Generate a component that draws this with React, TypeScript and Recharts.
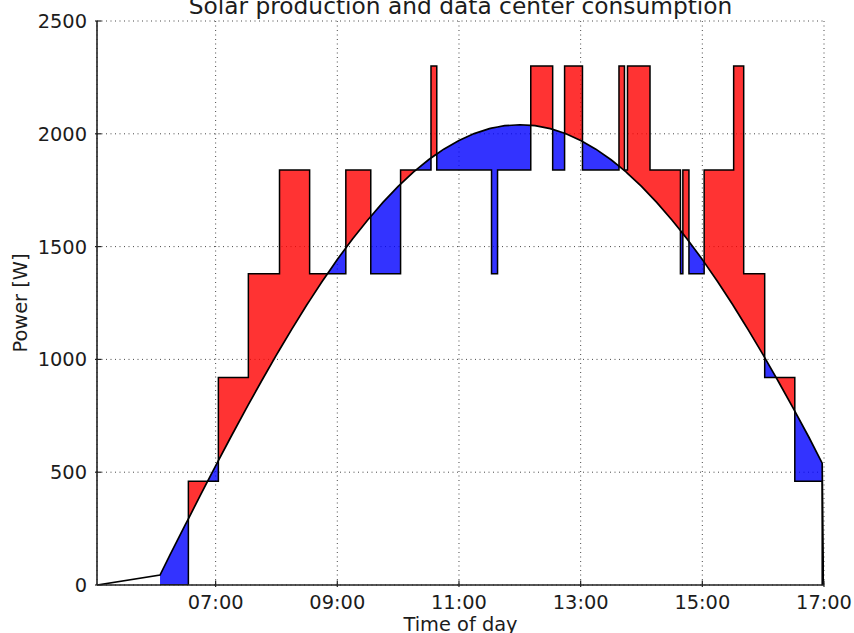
import React from 'react';
import { ComposedChart, Area, Line, XAxis, YAxis, CartesianGrid } from 'recharts';

// Solar production samples (hour of day -> watts)
const solarHours = [
  5.05, 6.086, 6.25, 6.5, 6.75, 7, 7.25, 7.5, 7.75, 8, 8.25, 8.5, 8.75, 9, 9.25, 9.5, 9.75,
  10, 10.25, 10.5, 10.75, 11, 11.25, 11.5, 11.75, 12, 12.25, 12.5, 12.75, 13, 13.25, 13.5,
  13.75, 14, 14.25, 14.5, 14.75, 15, 15.25, 15.5, 15.75, 16, 16.25, 16.5, 16.75, 16.97, 16.99,
];
const solarWatts = [
  0, 44, 133, 266, 398, 528, 656, 781, 902, 1020, 1133, 1242, 1345, 1443, 1534, 1618, 1696,
  1767, 1830, 1885, 1932, 1970, 2001, 2023, 2036, 2040, 2036, 2023, 2001, 1970, 1932, 1885,
  1830, 1767, 1696, 1618, 1534, 1443, 1345, 1242, 1133, 1020, 902, 781, 656, 540, 0,
];

// Data center consumption: each level holds from its start hour until the next start
const loadStartHours = [
  6.086, 6.552, 7.045, 7.538, 8.05, 8.545, 9.14, 9.55, 10.04, 10.54, 10.635, 11.535, 11.634,
  12.18, 12.54, 12.736, 13.03, 13.63, 13.72, 13.77, 14.14, 14.64, 14.68, 14.78, 15.03, 15.515,
  15.68, 16.025, 16.52, 16.97,
];
const loadWatts = [
  0, 460, 920, 1380, 1840, 1380, 1840, 1380, 1840, 2300, 1840, 1380, 1840,
  2300, 1840, 2300, 1840, 2300, 1840, 2300, 1840, 1380, 1840, 1380, 1840, 2300,
  1380, 920, 460, 0,
];
const loadEndHour = 17.0;

const hourTicks = [7, 9, 11, 13, 15, 17];
const powerTicks = [0, 500, 1000, 1500, 2000, 2500];

const FONT = "'DejaVu Sans', 'Liberation Sans', sans-serif";
const INK = '#1c1c1c';
const SPINE = { stroke: '#222', strokeWidth: 1.6 };

type Row = {
  t: number;
  solar?: number;
  load?: number;
  over?: [number, number];
  under?: [number, number];
};

// Solar value along the sampled polyline
const solarAt = (t: number): number => {
  if (t <= solarHours[0]) return solarWatts[0];
  for (let i = 1; i < solarHours.length; i++) {
    if (t <= solarHours[i]) {
      const f = (t - solarHours[i - 1]) / (solarHours[i] - solarHours[i - 1]);
      return solarWatts[i - 1] + f * (solarWatts[i] - solarWatts[i - 1]);
    }
  }
  return solarWatts[solarWatts.length - 1];
};

// Table with the surplus (blue) and deficit (red) bands between both curves
const buildRows = (): Row[] => {
  const rows: Row[] = [];
  solarHours.forEach((t, i) => {
    if (t < loadStartHours[0]) rows.push({ t, solar: solarWatts[i] });
  });
  const pushRow = (t: number, load: number) => {
    const s = solarAt(t);
    rows.push({
      t,
      solar: s,
      load,
      over: [s, Math.max(s, load)],
      under: [Math.min(s, load), s],
    });
  };
  loadStartHours.forEach((a, i) => {
    const b = i + 1 < loadStartHours.length ? loadStartHours[i + 1] : loadEndHour;
    const level = loadWatts[i];
    const ts = [a, ...solarHours.filter((t) => t > a && t < b), b];
    ts.forEach((t, j) => {
      pushRow(t, level);
      if (j < ts.length - 1) {
        const d0 = solarAt(t) - level;
        const d1 = solarAt(ts[j + 1]) - level;
        if (d0 * d1 < 0) pushRow(t + ((ts[j + 1] - t) * d0) / (d0 - d1), level);
      }
    });
  });
  return rows;
};

const rows = buildRows();

const fmtHour = (h: number) => `${String(Math.floor(h)).padStart(2, '0')}:00`;

const BottomTick = (p: any) => (
  <g>
    <line x1={p.x} x2={p.x} y1={p.y} y2={p.y - 6.5} stroke="#222" strokeWidth={1.2} />
    <text x={p.x} y={p.y + 22} textAnchor="middle" fontFamily={FONT} fontSize={19.4} fill={INK}>
      {fmtHour(p.payload.value)}
    </text>
  </g>
);

const TopTick = (p: any) => (
  <line x1={p.x} x2={p.x} y1={p.y} y2={p.y + 6.5} stroke="#222" strokeWidth={1.2} />
);

const LeftTick = (p: any) => (
  <g>
    <line x1={p.x} x2={p.x + 6.5} y1={p.y} y2={p.y} stroke="#222" strokeWidth={1.2} />
    <text x={p.x - 8} y={p.y + 7} textAnchor="end" fontFamily={FONT} fontSize={19.4} fill={INK}>
      {p.payload.value}
    </text>
  </g>
);

const RightTick = (p: any) => (
  <line x1={p.x} x2={p.x - 6.5} y1={p.y} y2={p.y} stroke="#222" strokeWidth={1.2} />
);

export default function App() {
  return (
    <div style={{ position: 'absolute', left: 0, top: 0, width: 854, height: 633, background: '#fff' }}>
      <ComposedChart
        width={854}
        height={633}
        data={rows}
        margin={{ top: 21, right: 30, bottom: 0, left: 0 }}
      >
        <CartesianGrid stroke="#333" strokeWidth={0.9} strokeDasharray="1 3.5" />
        <Area
          type="linear"
          dataKey="over"
          stroke="none"
          fill="#ff0000"
          fillOpacity={0.8}
          dot={false}
          activeDot={false}
          isAnimationActive={false}
        />
        <Area
          type="linear"
          dataKey="under"
          stroke="none"
          fill="#0000ff"
          fillOpacity={0.8}
          dot={false}
          activeDot={false}
          isAnimationActive={false}
        />
        <Line
          type="linear"
          dataKey="solar"
          stroke="#000"
          strokeWidth={1.7}
          dot={false}
          activeDot={false}
          isAnimationActive={false}
        />
        <Line
          type="linear"
          dataKey="load"
          stroke="#000"
          strokeWidth={1.5}
          dot={false}
          activeDot={false}
          isAnimationActive={false}
        />
        <XAxis
          dataKey="t"
          type="number"
          domain={[5.05, 17]}
          ticks={hourTicks}
          interval={0}
          allowDataOverflow
          height={48}
          tickSize={0}
          tickLine={false}
          axisLine={SPINE}
          tick={BottomTick}
        />
        <XAxis
          xAxisId="top"
          orientation="top"
          dataKey="t"
          type="number"
          domain={[5.05, 17]}
          ticks={hourTicks}
          interval={0}
          allowDataOverflow
          height={0}
          tickSize={0}
          tickLine={false}
          axisLine={SPINE}
          tick={TopTick}
        />
        <YAxis
          type="number"
          domain={[0, 2500]}
          ticks={powerTicks}
          interval={0}
          allowDataOverflow
          width={97}
          tickSize={0}
          tickLine={false}
          axisLine={SPINE}
          tick={LeftTick}
        />
        <YAxis
          yAxisId="right"
          orientation="right"
          type="number"
          domain={[0, 2500]}
          ticks={powerTicks}
          interval={0}
          allowDataOverflow
          width={0}
          tickSize={0}
          tickLine={false}
          axisLine={SPINE}
          tick={RightTick}
        />
      </ComposedChart>
      <svg
        width={854}
        height={633}
        style={{ position: 'absolute', left: 0, top: 0, pointerEvents: 'none' }}
      >
        <text x={460.5} y={14} textAnchor="middle" fontFamily={FONT} fontSize={23.3} fill={INK}>
          Solar production and data center consumption
        </text>
        <text
          x={27}
          y={303}
          textAnchor="middle"
          fontFamily={FONT}
          fontSize={19.4}
          fill={INK}
          transform="rotate(-90 27 303)"
        >
          Power [W]
        </text>
        <text x={460.5} y={631} textAnchor="middle" fontFamily={FONT} fontSize={19.4} fill={INK}>
          Time of day
        </text>
      </svg>
    </div>
  );
}
